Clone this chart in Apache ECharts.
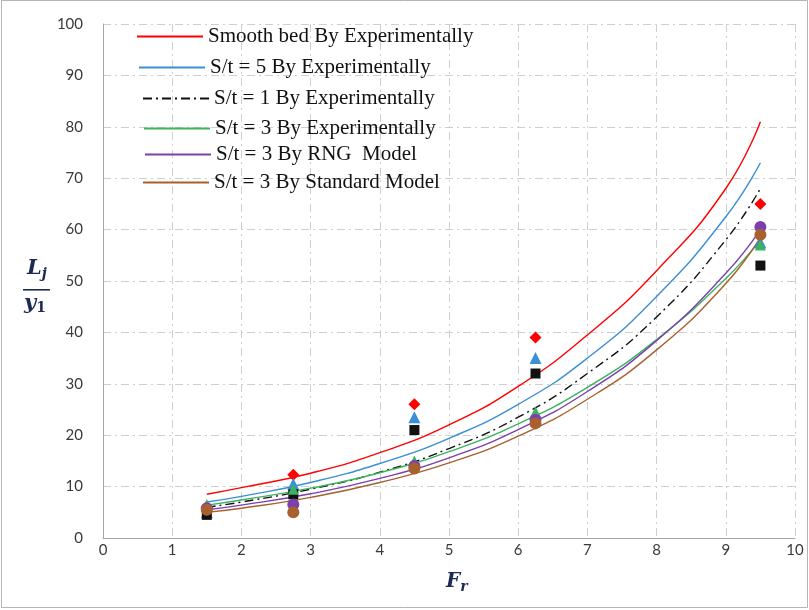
<!DOCTYPE html>
<html>
<head>
<meta charset="utf-8">
<script src="https://cdn.jsdelivr.net/npm/echarts@6/dist/echarts.min.js"></script>
<style>
  html, body { margin: 0; padding: 0; background: #fff; }
  #chart { width: 809px; height: 610px; }
</style>
</head>
<body>
<div id="chart"></div>
<script>
// trend curves
const curveX = [1.5, 2, 3, 4, 5, 6, 7, 8, 9, 9.5];
const smoothBed = [8.5, 9.8, 12.6, 16.6, 22, 29.5, 39.5, 52, 68, 81];
const st5 = [7, 8.1, 10.8, 14.5, 19.4, 26, 35, 47, 62.5, 73];
const st1 = [6, 7, 9.5, 12.8, 17.4, 23.5, 32, 43, 58, 68];
const st3Exp = [6.4, 7.4, 9.7, 12.7, 16.8, 22.2, 29.3, 38.6, 50.5, 58];
const st3Rng = [5.5, 6.4, 8.6, 11.6, 15.6, 21.1, 28.5, 38.4, 51.5, 60];
const st3Std = [5, 5.8, 7.9, 10.8, 14.6, 19.8, 27, 36.6, 49.5, 58.5];

// measured points
const pointX = [1.5, 2.75, 4.5, 6.25, 9.5];
const ptSmooth = [6, 12.3, 26, 39, 65];
const ptSt5 = [5, 10.5, 23.5, 35, 57.5];
const ptSt1 = [4.5, 8.5, 21, 32, 53];
const ptSt3Exp = [6.5, 9.5, 15, 24.5, 57];
const ptSt3Rng = [5.8, 6.5, 14, 23, 60.5];
const ptSt3Std = [5.5, 5, 13.5, 22.3, 59];

const names = [
  'Smooth bed By Experimentally',
  'S/t = 5 By Experimentally',
  'S/t = 1 By Experimentally',
  'S/t = 3 By Experimentally',
  'S/t = 3 By RNG  Model',
  'S/t = 3 By Standard Model'
];
const colors = ['#ff0000', '#3b8fd6', '#111111', '#3cb35e', '#7a40b0', '#a8612e'];
const curves = [smoothBed, st5, st1, st3Exp, st3Rng, st3Std];
const points = [ptSmooth, ptSt5, ptSt1, ptSt3Exp, ptSt3Rng, ptSt3Std];
const symbols = ['diamond', 'triangle', 'rect', 'triangle', 'circle', 'circle'];
const symSizes = [12, 12, 10, 11, 12, 12];

// legend rows: vertical centre and where the text starts
const legendMid = [35, 66, 97, 127, 153, 181];
const legendTextX = [207, 209, 213, 214, 215, 213];

const pair = (xs, ys) => xs.map((x, i) => [x, ys[i]]);

const chart = echarts.init(document.getElementById('chart'));

const grid = {
  type: 'line',
  lineStyle: { color: '#cfcfcf', width: 1, type: [8, 4, 2, 4] }
};

const series = [];
names.forEach((n, i) => {
  series.push({
    name: n + ' pts',
    type: 'scatter',
    data: pair(pointX, points[i]),
    symbol: symbols[i],
    symbolSize: symSizes[i],
    itemStyle: { color: colors[i], opacity: 1 },
    z: 3
  });
});
names.forEach((n, i) => {
  series.push({
    name: n,
    type: 'line',
    data: pair(curveX, curves[i]),
    smooth: true,
    symbol: 'none',
    lineStyle: {
      color: colors[i],
      width: 1.4,
      type: i === 2 ? [9, 4, 2, 4] : 'solid'
    },
    itemStyle: { color: colors[i] },
    z: 2
  });
});

const option = {
  animation: false,
  backgroundColor: '#fff',
  grid: { left: 103, right: 14, top: 24, bottom: 72 },
  xAxis: {
    type: 'value',
    min: 0, max: 10, interval: 1,
    axisLine: { lineStyle: { color: '#a6a6a6' } },
    axisTick: { show: false },
    axisLabel: { color: '#3a3a3a', fontFamily: 'Lato', fontSize: 15, margin: 5 },
    splitLine: Object.assign({ show: true }, grid)
  },
  yAxis: {
    type: 'value',
    min: 0, max: 100, interval: 10,
    axisLine: { show: true, lineStyle: { color: '#a6a6a6' } },
    axisTick: { show: false },
    axisLabel: { color: '#3a3a3a', fontFamily: 'Lato', fontSize: 15, margin: 20 },
    splitLine: Object.assign({ show: true }, grid)
  },
  legend: names.map((n, i) => ({
    data: [n],
    left: legendTextX[i] - 71,
    top: legendMid[i] - 9,
    padding: 0,
    itemWidth: 66,
    itemHeight: 14,
    itemStyle: { opacity: 0 },
    selectedMode: false,
    textStyle: { fontFamily: 'Liberation Serif', fontSize: 21, color: '#111' }
  })),
  graphic: [
    {
      type: 'rect',
      shape: { x: 1.5, y: 0.5, width: 806, height: 607 },
      style: { fill: 'none', stroke: '#b5b5b5', lineWidth: 1 },
      silent: true
    },
    {
      type: 'text',
      left: 27, top: 258,
      style: {
        text: '{b|L}{s|j}',
        rich: {
          b: { fontFamily: 'DejaVu Serif', fontStyle: 'italic', fontWeight: 'bold', fontSize: 21, fill: '#1c2b52' },
          s: { fontFamily: 'DejaVu Serif', fontStyle: 'italic', fontWeight: 'bold', fontSize: 14, fill: '#1c2b52', padding: [11, 0, 0, 0] }
        }
      }
    },
    {
      type: 'rect',
      shape: { x: 23, y: 289, width: 27, height: 1.6 },
      style: { fill: '#1c2b52' }
    },
    {
      type: 'text',
      left: 24, top: 293,
      style: {
        text: '{b|y}{s|1}',
        rich: {
          b: { fontFamily: 'DejaVu Serif', fontStyle: 'italic', fontWeight: 'bold', fontSize: 21, fill: '#1c2b52' },
          s: { fontFamily: 'DejaVu Serif', fontWeight: 'bold', fontSize: 14, fill: '#1c2b52', padding: [9, 0, 0, 0] }
        }
      }
    },
    {
      type: 'text',
      left: 446, top: 572,
      style: {
        text: '{b|F}{s|r}',
        rich: {
          b: { fontFamily: 'DejaVu Serif', fontStyle: 'italic', fontWeight: 'bold', fontSize: 20, fill: '#1c2b52' },
          s: { fontFamily: 'DejaVu Serif', fontStyle: 'italic', fontWeight: 'bold', fontSize: 14, fill: '#1c2b52', padding: [10, 0, 0, 0] }
        }
      }
    }
  ],
  series: series
};

chart.setOption(option);
</script>
</body>
</html>
